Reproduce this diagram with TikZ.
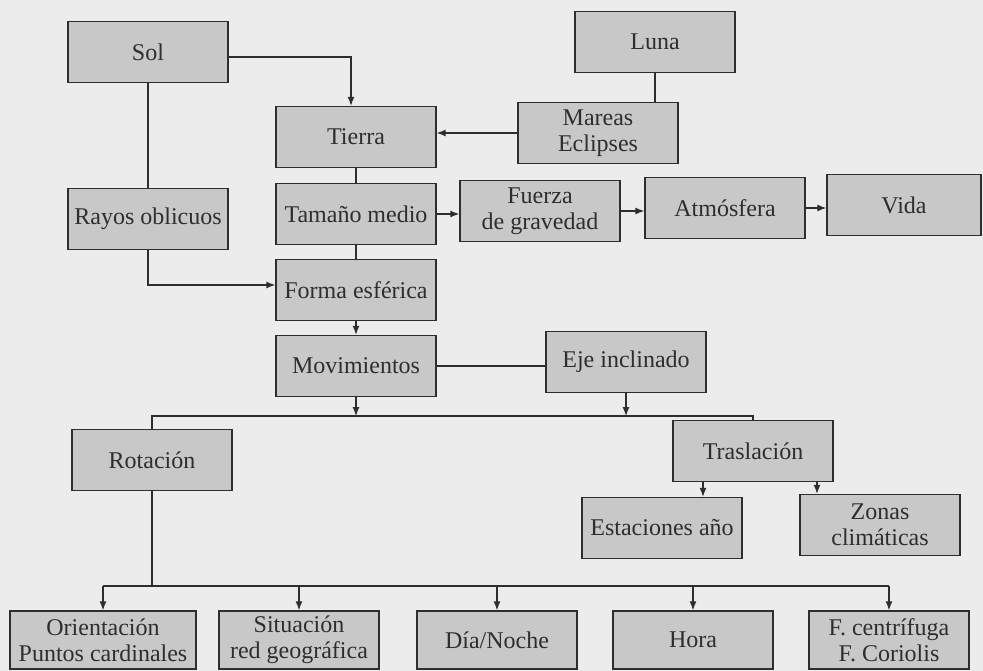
\documentclass[tikz,border=0pt]{standalone}
\usepackage{fontspec}
\setmainfont{Liberation Serif}
\usepackage{tikz}
\usetikzlibrary{positioning,arrows.meta,calc}
\definecolor{boxgray}{HTML}{C8C8C8}
\definecolor{pagegray}{HTML}{ECECEC}
\definecolor{inkgray}{HTML}{2E2E2E}

\begin{document}
\begin{tikzpicture}[
  x=1pt, y=-1pt,
  font=\fontsize{24}{26}\selectfont,
  box/.style={draw=inkgray, fill=boxgray, line width=1.4pt, text=inkgray, align=center, minimum width=160pt, minimum height=61pt, inner sep=0pt},
  link/.style={draw=inkgray, line width=1.2pt},
  arr/.style={link, -{Latex[length=9pt,width=7pt]}}
]
\fill[pagegray] (0,0) rectangle (983,671);
\useasboundingbox (0,0) rectangle (983,671);

% upper part: Sol, Luna, Tierra and what follows from its size
\node[box] (sol) at (148,52) {Sol};
\node[box] (luna) at (655,42) {Luna};
\node[box] (tierra) at (356,137) {Tierra};
\node[box] (mareas) at (598,133) {Mareas\\Eclipses};
\node[box] (rayos) at (148,219) {Rayos oblicuos};
\node[box] (tamano) at (356,214) {Tamaño medio};
\node[box] (fuerza) at (540,211) {Fuerza\\de gravedad};
\node[box] (atmos) at (725,208) {Atmósfera};
\node[box, minimum width=154pt] (vida) at (904,205) {Vida};
\node[box] (forma) at (356,290) {Forma esférica};

% movements
\node[box] (movim) at (356,366) {Movimientos};
\node[box] (eje) at (626,362) {Eje inclinado};
\node[box] (rotacion) at (152,460) {Rotación};
\node[box] (traslacion) at (753,451) {Traslación};
\node[box] (estaciones) at (662,528) {Estaciones año};
\node[box] (zonas) at (880,525) {Zonas\\climáticas};

% bottom row
\node[box, minimum width=186pt, minimum height=58pt] (orient) at (103,640) {Orientación\\Puntos cardinales};
\node[box, minimum height=58pt] (situacion) at (299,640) {Situación\\red geográfica};
\node[box, minimum height=58pt] (dianoche) at (497,640) {Día/Noche};
\node[box, minimum height=58pt] (hora) at (693,640) {Hora};
\node[box, minimum height=58pt] (fcent) at (889,640) {F. centrífuga\\F. Coriolis};

\coordinate (bus) at (400,416);
\coordinate (busb) at (400,586);

\draw[arr] ([yshift=-5pt]sol.east) -| ([xshift=-5pt]tierra.north);
\draw[link] (sol) -- (rayos);
\draw[link] (luna.south) -- (luna.south |- mareas.north);
\draw[arr] (mareas.west) -- (mareas.west -| tierra.east);
\draw[link] (tierra) -- (tamano);
\draw[link] (tamano) -- (forma);
\draw[arr] (tamano.east) -- (tamano.east -| fuerza.west);
\draw[arr] (fuerza.east) -- (fuerza.east -| atmos.west);
\draw[arr] (atmos.east) -- (atmos.east -| vida.west);
\draw[arr] (rayos.south) |- ([yshift=5pt]forma.west);
\draw[arr] (forma) -- (movim);
\draw[link] (movim.east) -- (movim.east -| eje.west);

\draw[link] (rotacion.north) |- (bus) -| (traslacion.north);
\draw[arr] (movim.south) -- (movim.south |- bus);
\draw[arr] (eje.south) -- (eje.south |- bus);
\draw[arr] ([xshift=-50pt]traslacion.south) -- ([xshift=-50pt]traslacion.south |- estaciones.north);
\draw[arr] ([xshift=64pt]traslacion.south) -- ([xshift=64pt]traslacion.south |- zonas.north);

\draw[link] (rotacion.south) -- (rotacion.south |- busb);
\draw[link] (orient.north |- busb) -- (fcent.north |- busb);
\foreach \n in {orient,situacion,dianoche,hora,fcent}
  \draw[arr] (\n.north |- busb) -- (\n.north);
\end{tikzpicture}
\end{document}
